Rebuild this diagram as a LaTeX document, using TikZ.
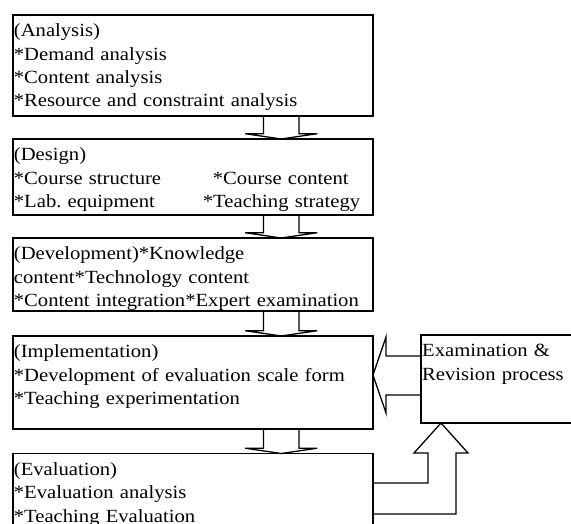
\documentclass[tikz,border=0pt]{standalone}
\usepackage{fontspec}
\setmainfont{Liberation Serif}[FakeStretch=1.11]
\usetikzlibrary{positioning,calc}
\frenchspacing
\tikzset{
  stage/.style={draw, line width=1.7pt, inner sep=0pt, outer sep=0pt, minimum width=360.3pt},
  txt/.style={anchor=north west, inner sep=0pt, align=left, text width=355pt,
    font=\fontsize{18.6}{23.3}\selectfont, execute at begin node=\strut,
    xshift=1pt, yshift=-5.4pt},
  blk/.style={draw, line width=1.3pt},
}

\begin{document}
\begin{tikzpicture}[x=1pt, y=-1pt]
\useasboundingbox (0,0) rectangle (571,523);
\fill[white] (0,0) rectangle (571,523);
\clip (0,0) rectangle (571,523);
% the five stages
\node[stage, minimum height=101pt, anchor=north west] (ana) at (12.7,15) {};
\node[stage, minimum height=76pt, below=23pt of ana] (des) {};
\node[stage, minimum height=73pt, below=23pt of des] (dev) {};
\node[stage, minimum height=93pt, below=25pt of dev] (imp) {};
\node[stage, minimum height=90pt, below=24.5pt of imp] (eva) {};
\node[stage, minimum width=170pt, minimum height=88pt, right=48pt of imp.north east, anchor=north west, yshift=1pt] (exa) {};
% texts
\node[txt] (ana-t) at (ana.north west) {(Analysis)\\{}*Demand analysis\\{}*Content analysis\\{}*Resource and constraint analysis};
\node[txt] (des-t) at (des.north west) {(Design)\\{}\makebox[199pt][l]{*Course structure}*Course content\\{}\makebox[189pt][l]{*Lab. equipment}*Teaching strategy};
\node[txt] (dev-t) at (dev.north west) {(Development)*Knowledge\\content*Technology content\\{}*Content integration*Expert examination};
\node[txt] (imp-t) at (imp.north west) {(Implementation)\\{}*Development of evaluation scale form\\{}*Teaching experimentation};
\node[txt] (eva-t) at (eva.north west) {(Evaluation)\\{}*Evaluation analysis\\{}*Teaching Evaluation};
\node[txt] (exa-t) at (exa.north west) {Examination \&\\Revision process};
% block arrows between stages
\coordinate (ax) at (281.2,0);
\foreach \a/\b in {ana/des, des/dev, dev/imp, imp/eva}
  \draw[blk] ($(\a.south -| ax)+(-17.7,0)$) -- ($(\b.north -| ax)+(-17.7,-5.3)$)
    -- ($(\b.north -| ax)+(-36,-5.3)$) -- (\b.north -| ax)
    -- ($(\b.north -| ax)+(36,-5.3)$) -- ($(\b.north -| ax)+(17.7,-5.3)$)
    -- ($(\a.south -| ax)+(17.7,0)$);
% feedback loop
\draw[blk] (exa.west |- 0,356) -- (386,356) -- (386,337) -- (imp.east |- 0,375)
  -- (386,413) -- (386,395) -- (exa.west |- 0,395);
\draw[blk] (eva.east |- 0,483) -- (428,483) -- (428,453) -- (414,453) -- (exa.south -| 441,0)
  -- (468,453) -- (456,453) -- (456,514) -- (eva.east |- 0,514);
\end{tikzpicture}
\end{document}
